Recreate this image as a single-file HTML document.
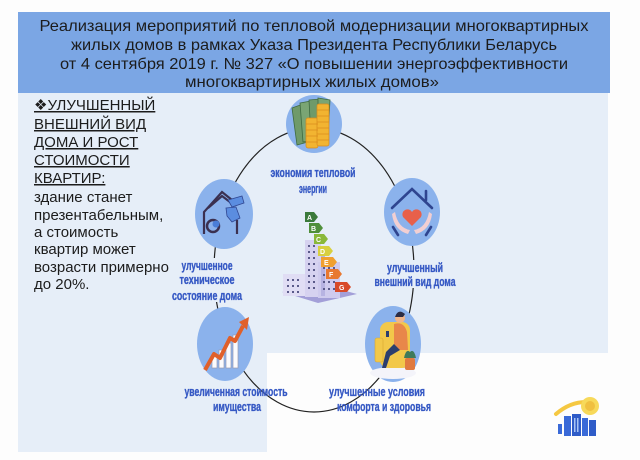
<!DOCTYPE html>
<html>
<head>
<meta charset="utf-8">
<style>
html,body{margin:0;padding:0;background:#fdfdfd;}
svg{display:block;}
.h{font-family:"Liberation Sans",sans-serif;font-size:16px;fill:#1c1c1c;}
.l{font-family:"Liberation Sans",sans-serif;font-size:15px;fill:#1c1c1c;}
.b{font-family:"Liberation Sans",sans-serif;font-size:12.5px;font-weight:bold;fill:#3558c4;stroke:#3558c4;stroke-width:0.35px;}
</style>
</head>
<body>
<svg width="640" height="460" viewBox="0 0 640 460" xmlns="http://www.w3.org/2000/svg">
  <rect width="640" height="460" fill="#fdfdfd"/>
  <!-- light panel -->
  <path d="M18 93 H608 V353 H267 V452 H18 Z" fill="#e6eef8"/>
  <!-- header -->
  <rect x="18" y="12" width="592" height="81" fill="#7ba6e4"/>
  <text class="h" x="314" y="31" text-anchor="middle" textLength="549" lengthAdjust="spacingAndGlyphs">Реализация мероприятий по тепловой модернизации многоквартирных</text>
  <text class="h" x="314" y="50" text-anchor="middle" textLength="486" lengthAdjust="spacingAndGlyphs">жилых домов в рамках Указа Президента Республики Беларусь</text>
  <text class="h" x="314" y="69" text-anchor="middle" textLength="508" lengthAdjust="spacingAndGlyphs">от 4 сентября 2019 г. № 327 «О повышении энергоэффективности</text>
  <text class="h" x="312" y="87" text-anchor="middle" textLength="254" lengthAdjust="spacingAndGlyphs">многоквартирных жилых домов»</text>

  <!-- left text -->
  <text class="l" x="34" y="110" text-decoration="underline">❖УЛУЧШЕННЫЙ</text>
  <text class="l" x="34" y="129" text-decoration="underline">ВНЕШНИЙ ВИД</text>
  <text class="l" x="34" y="147" text-decoration="underline">ДОМА И РОСТ</text>
  <text class="l" x="34" y="165" text-decoration="underline">СТОИМОСТИ</text>
  <text class="l" x="34" y="183" text-decoration="underline">КВАРТИР:</text>
  <text class="l" x="34" y="202">здание станет</text>
  <text class="l" x="34" y="220">презентабельным,</text>
  <text class="l" x="34" y="237">а стоимость</text>
  <text class="l" x="34" y="254">квартир может</text>
  <text class="l" x="34" y="272">возрасти примерно</text>
  <text class="l" x="34" y="289">до 20%.</text>

  <!-- connector ellipse -->
  <ellipse cx="314" cy="270" rx="100" ry="142" fill="none" stroke="#222" stroke-width="1.2"/>

  <!-- label backgrounds on sides to break the line -->
  <rect x="170" y="258" width="75" height="44" fill="#e6eef8"/>
  <rect x="372" y="260" width="86" height="28" fill="#e6eef8"/>

  <!-- labels -->
  <text class="b" x="313" y="177" text-anchor="middle" textLength="85" lengthAdjust="spacingAndGlyphs">экономия тепловой</text>
  <text class="b" x="313" y="193" text-anchor="middle" textLength="28" lengthAdjust="spacingAndGlyphs">энергии</text>

  <text class="b" x="207" y="270" text-anchor="middle" textLength="51" lengthAdjust="spacingAndGlyphs">улучшенное</text>
  <text class="b" x="207" y="284" text-anchor="middle" textLength="55" lengthAdjust="spacingAndGlyphs">техническое</text>
  <text class="b" x="207" y="300" text-anchor="middle" textLength="70" lengthAdjust="spacingAndGlyphs">состояние дома</text>

  <text class="b" x="415" y="272" text-anchor="middle" textLength="56" lengthAdjust="spacingAndGlyphs">улучшенный</text>
  <text class="b" x="415" y="286" text-anchor="middle" textLength="81" lengthAdjust="spacingAndGlyphs">внешний вид дома</text>

  <text class="b" x="236" y="396" text-anchor="middle" textLength="103" lengthAdjust="spacingAndGlyphs">увеличенная стоимость</text>
  <text class="b" x="237" y="411" text-anchor="middle" textLength="48" lengthAdjust="spacingAndGlyphs">имущества</text>

  <text class="b" x="377" y="396" text-anchor="middle" textLength="96" lengthAdjust="spacingAndGlyphs">улучшенные условия</text>
  <text class="b" x="384" y="411" text-anchor="middle" textLength="94" lengthAdjust="spacingAndGlyphs">комфорта и здоровья</text>

  <!-- top circle: money -->
  <ellipse cx="314" cy="124" rx="28" ry="29" fill="#8bb2ec"/>
  <g stroke="#3f6a40" stroke-width="0.8">
    <polygon points="292,108 303,104 308,142 297,145" fill="#6f9a6a"/>
    <polygon points="300,103 311,101 313,140 303,142" fill="#7aa574"/>
    <polygon points="309,100 320,99 321,138 311,139" fill="#6f9a6a"/>
    <polygon points="318,98 330,100 328,136 318,135" fill="#7aa574"/>
  </g>
  <g fill="#f2b431" stroke="#d88a1c" stroke-width="0.7">
    <rect x="306" y="118" width="12" height="30" rx="2"/>
    <rect x="317" y="104" width="12" height="42" rx="2"/>
  </g>
  <g stroke="#d88a1c" stroke-width="0.7">
    <line x1="306" y1="124" x2="318" y2="124"/><line x1="306" y1="130" x2="318" y2="130"/>
    <line x1="306" y1="136" x2="318" y2="136"/><line x1="306" y1="142" x2="318" y2="142"/>
    <line x1="317" y1="110" x2="329" y2="110"/><line x1="317" y1="116" x2="329" y2="116"/>
    <line x1="317" y1="122" x2="329" y2="122"/><line x1="317" y1="128" x2="329" y2="128"/>
    <line x1="317" y1="134" x2="329" y2="134"/><line x1="317" y1="140" x2="329" y2="140"/>
  </g>

  <!-- left circle: technical -->
  <ellipse cx="224" cy="214" rx="29" ry="35" fill="#8bb2ec"/>
  <g fill="none" stroke="#3b3050" stroke-width="2.2">
    <polyline points="204,234 204,212 222,192 232,200"/>
    <polyline points="208,208 222,196 230,202"/>
    <line x1="237" y1="220" x2="237" y2="234"/>
  </g>
  <circle cx="213" cy="226" r="6" fill="none" stroke="#3b3050" stroke-width="2.5"/>
  <circle cx="216" cy="224" r="3.5" fill="#4a7ed8"/>
  <g fill="#5b8de0" stroke="#2f4590" stroke-width="0.8">
    <polygon points="228,200 242,196 244,203 232,207"/>
    <polygon points="226,208 236,207 240,218 232,222 227,216"/>
  </g>

  <!-- right circle: heart house -->
  <ellipse cx="412" cy="212" rx="28" ry="34" fill="#8bb2ec"/>
  <g fill="none" stroke="#2f4590" stroke-width="2.6" stroke-linecap="round">
    <polyline points="392,208 412,189 432,208"/>
    <line x1="426" y1="191" x2="426" y2="200"/>
    <line x1="393" y1="227" x2="398" y2="235"/>
    <line x1="431" y1="227" x2="426" y2="235"/>
  </g>
  <path d="M395 212 q3 16 15 18 l-2 4 q-14 -4 -16 -20 z" fill="#f2cfd2"/>
  <path d="M429 212 q-3 16 -15 18 l2 4 q14 -4 16 -20 z" fill="#f2cfd2"/>
  <path d="M412 226 l-9 -9 a5 5 0 0 1 9 -5 a5 5 0 0 1 9 5 z" fill="#e8604a"/>

  <!-- bottom-left circle: chart -->
  <ellipse cx="225" cy="344" rx="28" ry="37" fill="#8bb2ec"/>
  <g fill="#fbfbfd" stroke="#9a9ab0" stroke-width="0.7">
    <rect x="212" y="356" width="5" height="12"/>
    <rect x="219" y="350" width="5" height="18"/>
    <rect x="226" y="343" width="5" height="25"/>
    <rect x="233" y="335" width="5" height="33"/>
  </g>
  <polyline points="205,370 214,354 220,358 230,338 235,341 243,326" fill="none" stroke="#e0602a" stroke-width="4" stroke-linejoin="round"/>
  <polygon points="239,322 249,317 247,330" fill="#e0602a"/>

  <!-- bottom-right circle: woman in chair -->
  <ellipse cx="393" cy="344" rx="28" ry="38" fill="#8bb2ec"/>
  <ellipse cx="393" cy="373" rx="23" ry="6" fill="#f4f4fa"/>
  <rect x="380" y="322" width="30" height="46" rx="8" fill="#f2c84a"/>
  <rect x="375" y="338" width="8" height="24" rx="2" fill="#f2c84a" stroke="#d8a830" stroke-width="0.6"/>
  <path d="M394 324 q10 -3 13 8 l1 18 h-14 z" fill="#e8874a"/>
  <circle cx="400" cy="318" r="5" fill="#f0b58a"/>
  <path d="M395 317 q3 -9 10 -3 l-2 3 z" fill="#2c2c44"/>
  <path d="M394 344 l-8 8 l-4 16 h4 l4 -12 l10 -6 z" fill="#2c3e6e"/>
  <rect x="386" y="331" width="3" height="6" fill="#2c3e6e"/>
  <path d="M404 358 q2 -10 6 -6 q4 -4 6 6 z" fill="#3f7a5a"/>
  <rect x="405" y="358" width="10" height="12" rx="2" fill="#e07a40"/>

  <!-- central building with energy labels -->
  <polygon points="282,292 320,284 357,294 318,303" fill="#a39fd8"/>
  <rect x="283" y="274" width="22" height="22" fill="#e0ddf4"/>
  <rect x="305" y="240" width="16" height="57" fill="#d6d2f0"/>
  <rect x="318" y="262" width="22" height="36" fill="#cfcbee"/>
  <rect x="321" y="246" width="4" height="50" fill="#b7b3e2"/>
  <g fill="#5a5a8a">
    <rect x="308" y="245" width="2" height="2"/><rect x="313" y="245" width="2" height="2"/>
    <rect x="308" y="251" width="2" height="2"/><rect x="313" y="251" width="2" height="2"/>
    <rect x="308" y="257" width="2" height="2"/><rect x="313" y="257" width="2" height="2"/>
    <rect x="308" y="263" width="2" height="2"/><rect x="313" y="263" width="2" height="2"/>
    <rect x="308" y="269" width="2" height="2"/><rect x="313" y="269" width="2" height="2"/>
    <rect x="308" y="275" width="2" height="2"/><rect x="313" y="275" width="2" height="2"/>
    <rect x="308" y="281" width="2" height="2"/><rect x="313" y="281" width="2" height="2"/>
    <rect x="308" y="287" width="2" height="2"/><rect x="313" y="287" width="2" height="2"/>
    <rect x="287" y="279" width="2" height="2"/><rect x="292" y="279" width="2" height="2"/><rect x="297" y="279" width="2" height="2"/>
    <rect x="287" y="285" width="2" height="2"/><rect x="292" y="285" width="2" height="2"/><rect x="297" y="285" width="2" height="2"/>
    <rect x="287" y="291" width="2" height="2"/><rect x="292" y="291" width="2" height="2"/><rect x="297" y="291" width="2" height="2"/>
    <rect x="323" y="267" width="2" height="2"/><rect x="328" y="267" width="2" height="2"/><rect x="333" y="267" width="2" height="2"/>
    <rect x="323" y="274" width="2" height="2"/><rect x="328" y="274" width="2" height="2"/><rect x="333" y="274" width="2" height="2"/>
    <rect x="323" y="281" width="2" height="2"/><rect x="328" y="281" width="2" height="2"/><rect x="333" y="281" width="2" height="2"/>
    <rect x="323" y="288" width="2" height="2"/><rect x="328" y="288" width="2" height="2"/><rect x="333" y="288" width="2" height="2"/>
  </g>
  <g font-family="Liberation Sans, sans-serif" font-size="7" font-weight="bold" fill="#fff">
    <path d="M305 212 h9 l4 5 l-4 5 h-9 z" fill="#3b7a3b"/><text x="307" y="220">A</text>
    <path d="M309 223 h10 l4 5 l-4 5 h-10 z" fill="#4f8f3a"/><text x="311" y="231">B</text>
    <path d="M314 234 h10 l4 5 l-4 5 h-10 z" fill="#8ab83a"/><text x="316" y="242">C</text>
    <path d="M318 246 h11 l4 5 l-4 5 h-11 z" fill="#d8d040"/><text x="320" y="254">D</text>
    <path d="M321 257 h12 l4 5 l-4 5 h-12 z" fill="#f0a030"/><text x="324" y="265">E</text>
    <path d="M326 269 h12 l4 5 l-4 5 h-12 z" fill="#e87830"/><text x="329" y="277">F</text>
    <path d="M335 282 h12 l4 5 l-4 5 h-12 z" fill="#d84a28"/><text x="339" y="290">G</text>
  </g>

  <!-- bottom right small icon -->
  <path d="M556 414 q14 -12 30 -12" fill="none" stroke="#f5c842" stroke-width="4" stroke-linecap="round"/>
  <circle cx="590" cy="406" r="9" fill="#f7d95a"/>
  <circle cx="590" cy="406" r="5" fill="#f0c040"/>
  <g fill="#3a6ad8">
    <rect x="558" y="424" width="4" height="10"/>
    <rect x="564" y="416" width="7" height="20"/>
    <rect x="572" y="414" width="9" height="22" fill="#2f5cc8"/>
    <rect x="582" y="418" width="6" height="18"/>
    <rect x="589" y="420" width="7" height="16" fill="#2f5cc8"/>
  </g>
  <g fill="#a8c4f4">
    <rect x="574" y="418" width="1.5" height="14"/><rect x="577" y="418" width="1.5" height="14"/>
  </g>
</svg>
</body>
</html>
